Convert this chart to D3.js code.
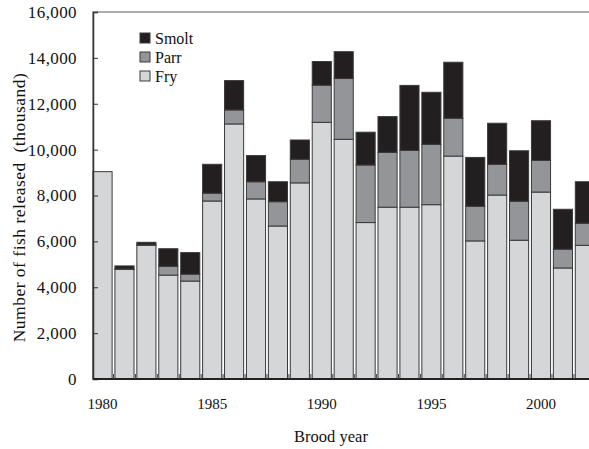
<!DOCTYPE html>
<html><head><meta charset="utf-8">
<script src="https://cdn.jsdelivr.net/npm/d3@7"></script>
<style>
html,body{margin:0;padding:0;background:#fff;}
svg{display:block;font-family:"Liberation Serif","Times New Roman",serif;}
</style></head>
<body>
<svg id="chart" width="589" height="449"></svg>
<script>
const years = [1980,1981,1982,1983,1984,1985,1986,1987,1988,1989,1990,1991,1992,1993,1994,1995,1996,1997,1998,1999,2000,2001,2002];
const fry   = [9040,4780,5830,4530,4270,7760,11120,7850,6670,8550,11190,10450,6820,7490,7490,7600,9720,6020,8020,6050,8150,4840,5830];
const parr  = [0,20,20,380,300,340,610,750,1060,1030,1620,2650,2510,2390,2480,2630,1650,1510,1340,1700,1380,820,960];
const smolt = [0,130,110,770,940,1260,1280,1140,870,840,1030,1170,1430,1560,2830,2270,2440,2130,1790,2200,1730,1740,1810];
const seriesNames = ["Fry","Parr","Smolt"];
const legendOrder = ["Smolt","Parr","Fry"];
const yTicks = [0,2000,4000,6000,8000,10000,12000,14000,16000];
const xTickYears = [1980,1985,1990,1995,2000];

const colors = {Fry:"#d5d6d7", Parr:"#939598", Smolt:"#231f20"};

const svg = d3.select("#chart");
const L = 93, T = 12, B = 379;
const step = 21.8, barW = 19;
const R = L + step*(years.length-1) + barW;

const x = d3.scaleBand().domain(years).range([L, L + step*years.length]).paddingInner(1 - barW/step).paddingOuter(0).align(0);
const y = d3.scaleLinear().domain([0,16000]).range([B, T]);

const table = years.map((yr,i)=>({year:yr, Fry:fry[i], Parr:parr[i], Smolt:smolt[i]}));
const stacked = d3.stack().keys(seriesNames)(table);

// frame
svg.append("rect").attr("x",L).attr("y",T).attr("width",R+10-L).attr("height",B-T)
  .attr("fill","none").attr("stroke","#777").attr("stroke-width",1.2);

// bars
svg.append("g").selectAll("g").data(stacked).join("g")
  .attr("fill", d=>colors[d.key])
  .selectAll("rect").data(d=>d.filter(p=>p[1]-p[0]>0)).join("rect")
  .attr("x", d=>x(d.data.year))
  .attr("width", x.bandwidth())
  .attr("y", d=>y(d[1]))
  .attr("height", d=>y(d[0])-y(d[1]))
  .attr("stroke","#3a3a3a").attr("stroke-width",1);

// y axis (inward ticks)
const yAxis = d3.axisLeft(y).tickValues(yTicks).tickSize(-5).tickPadding(16)
  .tickFormat(d3.format(","));
const gy = svg.append("g").attr("transform",`translate(${L},0)`).call(yAxis);
gy.select(".domain").attr("stroke","#333").attr("stroke-width",1.5);
gy.selectAll(".tick line").attr("stroke","#333");
gy.selectAll("text").attr("font-size",17).attr("letter-spacing","0.4px").attr("fill","#111").attr("font-family","Liberation Serif");

// x axis
const xAxis = d3.axisBottom(x).tickValues(xTickYears).tickSize(0).tickPadding(19);
const gx = svg.append("g").attr("transform",`translate(0,${B})`).call(xAxis);
gx.select(".domain").attr("stroke","#222").attr("stroke-width",2).attr("d",`M${L},0H${R+10}`);
gx.selectAll("text").attr("font-size",15).attr("fill","#111").attr("font-family","Liberation Serif");

// small inward ticks between bars
svg.append("g").selectAll("line").data(years.slice(1)).join("line")
  .attr("x1", d=>x(d)-(step-barW)/2).attr("x2", d=>x(d)-(step-barW)/2)
  .attr("y1", B).attr("y2", B-5).attr("stroke","#444").attr("stroke-width",1);

// axis titles
svg.append("text").attr("x", 331).attr("y", 442).attr("text-anchor","middle")
  .attr("font-size",16.5).attr("fill","#111").text("Brood year");
svg.append("text").attr("transform",`translate(25,${(T+B)/2+12}) rotate(-90)`).attr("text-anchor","middle")
  .attr("font-size",17.5).attr("letter-spacing","0.5px").attr("fill","#111").attr("xml:space","preserve").text("Number of fish released  (thousand)");

// legend
const lg = svg.append("g").selectAll("g").data(legendOrder).join("g")
  .attr("transform",(d,i)=>`translate(140,${33+i*19})`);
lg.append("rect").attr("width",10).attr("height",10).attr("fill",d=>colors[d]).attr("stroke","#3a3a3a").attr("stroke-width",1);
lg.append("text").attr("x",15).attr("y",10.5).attr("font-size",16).attr("fill","#111").text(d=>d);
</script>
</body></html>
